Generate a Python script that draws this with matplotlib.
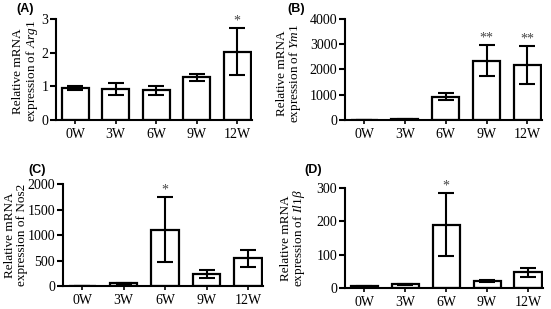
import matplotlib
matplotlib.use("Agg")
import matplotlib.pyplot as plt
import numpy as np

weeks = ["0W", "3W", "6W", "9W", "12W"]

arg1_mean = [0.95, 0.92, 0.88, 1.26, 2.03]
arg1_err = [0.07, 0.18, 0.13, 0.10, 0.70]
arg1_sig = ["", "", "", "", "*"]

ym1_mean = [10, 20, 920, 2350, 2170]
ym1_err = [5, 5, 150, 600, 760]
ym1_sig = ["", "", "", "**", "**"]

nos2_mean = [5, 55, 1110, 240, 545]
nos2_err = [3, 15, 640, 75, 165]
nos2_sig = ["", "", "*", "", ""]

il1b_mean = [5, 11, 190, 21, 47]
il1b_err = [2, 2, 95, 4, 13]
il1b_sig = ["", "", "*", "", ""]

plt.rcParams["font.family"] = ["Liberation Serif", "DejaVu Serif"]
plt.rcParams["mathtext.fontset"] = "custom"
plt.rcParams["mathtext.it"] = "Liberation Serif:italic"
plt.rcParams["mathtext.rm"] = "Liberation Serif"

fig = plt.figure(figsize=(5.51, 3.09), dpi=100)

# letter, axes rect, data, ylim top, yticks, ylabel, letter pos, ylabel coords
panels = [
    ("(A)", [0.102, 0.612, 0.355, 0.327], arg1_mean, arg1_err, arg1_sig, 3, [0, 1, 2, 3],
     "Relative mRNA\nexpression of $\\it{Arg1}$", (0.029, 0.971), (-0.085, 0.48)),
    ("(B)", [0.626, 0.612, 0.358, 0.327], ym1_mean, ym1_err, ym1_sig, 4000, [0, 1000, 2000, 3000, 4000],
     "Relative mRNA\nexpression of $\\it{Ym1}$", (0.521, 0.971), (-0.212, 0.46)),
    ("(C)", [0.114, 0.074, 0.363, 0.330], nos2_mean, nos2_err, nos2_sig, 2000, [0, 500, 1000, 1500, 2000],
     "Relative mRNA\nexpression of Nos2", (0.051, 0.45), (-0.175, 0.5)),
    ("(D)", [0.626, 0.068, 0.359, 0.324], il1b_mean, il1b_err, il1b_sig, 300, [0, 100, 200, 300],
     "Relative mRNA\nexpression of $\\it{Il1\\beta}$", (0.553, 0.45), (-0.19, 0.5)),
]

x = np.arange(len(weeks))
for letter, rect, mean, err, sig, ymax, yticks, ylabel, lpos, lcoords in panels:
    ax = fig.add_axes(rect)
    ax.bar(x, mean, width=0.66, color="white", edgecolor="black", linewidth=1.6, zorder=2)
    ax.errorbar(x, mean, yerr=err, fmt="none", ecolor="black", elinewidth=1.5,
                capsize=6, capthick=1.5, zorder=3)
    for xi, m, e, s in zip(x, mean, err, sig):
        if s:
            ax.text(xi, m + e + ymax * 0.005, s, ha="center", va="bottom", fontsize=10, color="#444444")
    ax.set_xlim(-0.47, 4.36)
    ax.set_ylim(0, ymax)
    ax.set_yticks(yticks)
    ax.set_xticks(x)
    ax.set_xticklabels(weeks)
    ax.tick_params(axis="x", length=3, width=1.2, pad=3, labelsize=10)
    ax.tick_params(axis="y", length=4, width=1.5, pad=1.5, labelsize=10)
    for side in ["top", "right"]:
        ax.spines[side].set_visible(False)
    for side in ["left", "bottom"]:
        ax.spines[side].set_linewidth(1.5)
    ax.set_ylabel(ylabel, fontsize=9.5, linespacing=0.95)
    ax.yaxis.set_label_coords(*lcoords)
    fig.text(lpos[0], lpos[1], letter, fontsize=9, fontweight="bold",
             family="Liberation Sans", ha="left", va="center")

fig.savefig("out.png", dpi=100)
